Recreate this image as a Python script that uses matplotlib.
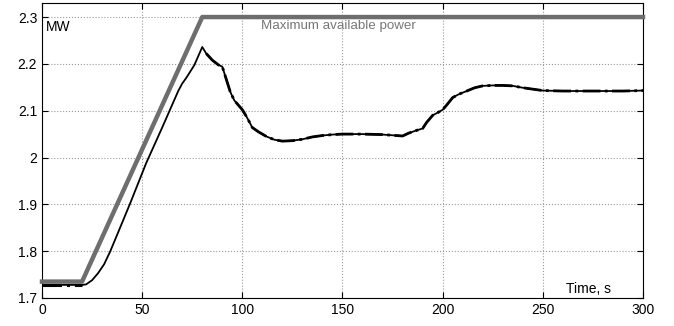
import matplotlib
matplotlib.use('Agg')
import matplotlib.pyplot as plt

# maximum available power (gray)
t_max = [0, 20, 80, 300]
p_max = [1.735, 1.735, 2.3, 2.3]

# output power (black)
t_out = [0, 5, 10, 15, 20, 22, 25, 28, 31, 34, 38, 44, 48, 52, 56, 60, 64, 68, 70,
         72, 76, 80, 82, 85, 88, 90, 92, 94, 96, 99, 100, 102, 105, 108, 112, 116,
         120, 125, 130, 135, 140, 145, 150, 160, 170, 180, 183, 187, 190, 192, 195,
         198, 200, 202, 205, 208, 212, 216, 220, 225, 230, 235, 240, 245, 250, 260,
         270, 280, 290, 300]
p_out = [1.728, 1.728, 1.728, 1.728, 1.728, 1.729, 1.738, 1.753, 1.772, 1.799, 1.840,
         1.902, 1.945, 1.988, 2.026, 2.064, 2.103, 2.142, 2.158, 2.170, 2.197, 2.236,
         2.222, 2.208, 2.198, 2.194, 2.167, 2.140, 2.122, 2.107, 2.102, 2.088, 2.064,
         2.055, 2.045, 2.038, 2.035, 2.036, 2.039, 2.044, 2.047, 2.049, 2.050, 2.050,
         2.049, 2.046, 2.052, 2.058, 2.062, 2.075, 2.090, 2.097, 2.102, 2.112, 2.128,
         2.135, 2.142, 2.149, 2.153, 2.154, 2.154, 2.153, 2.149, 2.146, 2.143, 2.142,
         2.142, 2.142, 2.142, 2.143]

plt.rcParams['font.family'] = ['Liberation Sans', 'DejaVu Sans']

fig = plt.figure(figsize=(6.74, 3.26), dpi=100)
ax = fig.add_axes([0.0623, 0.0859, 0.8917, 0.9049])

ax.plot(t_max, p_max, color='#6e6e6e', lw=3.2, solid_capstyle='projecting',
        clip_on=False, zorder=3)
ax.plot(t_out, p_out, color='black', lw=1.3, zorder=4)
# overlapping traces make the steady parts look thicker
i0 = t_out.index(21) if 21 in t_out else 5
i1 = t_out.index(80)
ax.plot(t_out[:i0], p_out[:i0], color='black', lw=2.2, ls='-.', zorder=4)
ax.plot(t_out[i1 + 1:], p_out[i1 + 1:], color='black', lw=2.0, ls='-.', zorder=4)

ax.set_xlim(0, 300)
ax.set_ylim(1.7, 2.33)
ax.set_xticks([0, 50, 100, 150, 200, 250, 300])
ax.set_yticks([1.7, 1.8, 1.9, 2.0, 2.1, 2.2, 2.3])
ax.set_yticklabels(['1.7', '1.8', '1.9', '2', '2.1', '2.2', '2.3'])
ax.tick_params(direction='in', top=True, right=True, labelsize=10, length=4)
ax.grid(True, ls=':', color='#999999', lw=0.8)

ax.text(2, 2.293, 'MW', fontsize=10, va='top', ha='left')
ax.text(148, 2.293, 'Maximum available power', fontsize=9.6, color='#777777',
        va='top', ha='center')
ax.text(273, 1.705, 'Time, s', fontsize=10, va='bottom', ha='center')

plt.savefig('out.png', dpi=100)
